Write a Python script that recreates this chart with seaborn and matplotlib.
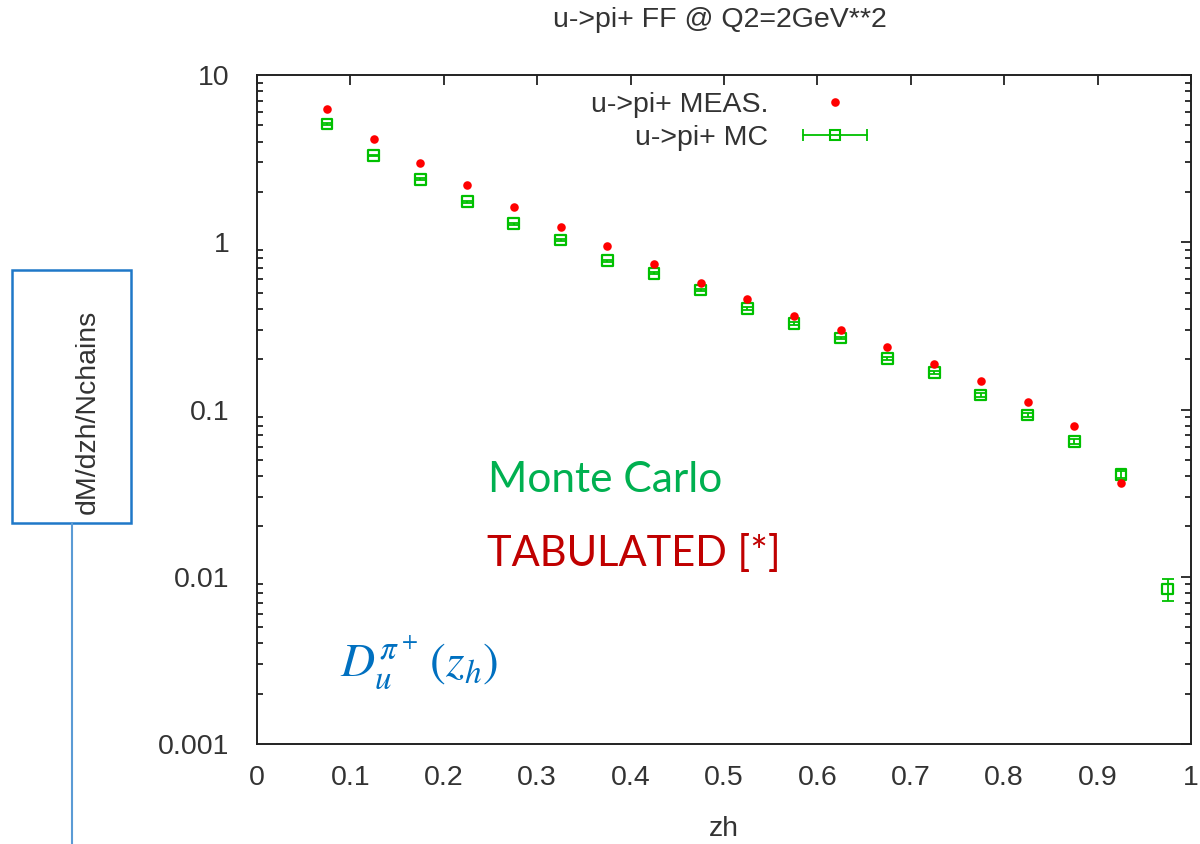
import numpy as np
import matplotlib
matplotlib.use("Agg")
import matplotlib.pyplot as plt
from matplotlib.lines import Line2D
from matplotlib.patches import Rectangle
from matplotlib.legend_handler import HandlerLine2D, HandlerTuple
from matplotlib.ticker import FixedLocator, LogLocator, NullFormatter
import seaborn as sns
import pandas as pd

# ---- data ----
zh_meas = [0.075, 0.125, 0.175, 0.225, 0.275, 0.325, 0.375, 0.425, 0.475,
           0.525, 0.575, 0.625, 0.675, 0.725, 0.775, 0.825, 0.875, 0.925]
ff_meas = [6.26, 4.16, 2.99, 2.20, 1.62, 1.23, 0.954, 0.738, 0.573,
           0.456, 0.364, 0.299, 0.236, 0.188, 0.149, 0.111, 0.0797, 0.0362]

zh_mc = [0.075, 0.125, 0.175, 0.225, 0.275, 0.325, 0.375, 0.425, 0.475,
         0.525, 0.575, 0.625, 0.675, 0.725, 0.775, 0.825, 0.875, 0.925, 0.975]
ff_mc = [5.09, 3.31, 2.38, 1.75, 1.29, 1.03, 0.776, 0.652, 0.518,
         0.403, 0.327, 0.268, 0.202, 0.166, 0.122, 0.0927, 0.0642, 0.0410, 0.00845]
err_mc = [0.05, 0.035, 0.03, 0.022, 0.017, 0.014, 0.011, 0.01, 0.008,
          0.007, 0.006, 0.005, 0.004, 0.0035, 0.003, 0.0025, 0.002, 0.0018, 0.0013]

x_ticks = [0, 0.1, 0.2, 0.3, 0.4, 0.5, 0.6, 0.7, 0.8, 0.9, 1]
y_ticks = [0.001, 0.01, 0.1, 1, 10]
y_tick_labels = ["0.001", "0.01", "0.1", "1", "10"]

title = "u->pi+ FF @ Q2=2GeV**2"
label_meas = "u->pi+ MEAS."
label_mc = "u->pi+ MC"

RED = "#ff0000"
GREEN = "#00c000"

sns.set_theme(style="white")
plt.rcParams["font.family"] = ["Liberation Sans", "DejaVu Sans"]
plt.rcParams["mathtext.fontset"] = "stix"

W, H = 1200, 844
fig = plt.figure(figsize=(12, 8.44), dpi=100)
ax = fig.add_axes([257 / W, 1 - 744 / H, (1191 - 257) / W, (744 - 75) / H])

df_meas = pd.DataFrame({"zh": zh_meas, "ff": ff_meas})
df_mc = pd.DataFrame({"zh": zh_mc, "ff": ff_mc, "err": err_mc})

ax.errorbar(df_mc["zh"], df_mc["ff"], yerr=df_mc["err"], fmt="none",
            ecolor=GREEN, elinewidth=1.3, capsize=4, capthick=1.3, zorder=2)
sns.scatterplot(data=df_mc, x="zh", y="ff", ax=ax, marker="s", s=60,
                facecolor="none", edgecolor=GREEN, linewidth=1.6, zorder=3,
                legend=False)
sns.scatterplot(data=df_meas, x="zh", y="ff", ax=ax, marker="o", s=38,
                color=RED, edgecolor=RED, linewidth=0, zorder=4, legend=False)

ax.set_yscale("log")
ax.set_xlim(0, 1)
ax.set_ylim(0.001, 10)
ax.xaxis.set_major_locator(FixedLocator(x_ticks))
ax.set_xticklabels(["%g" % v for v in x_ticks])
ax.yaxis.set_major_locator(FixedLocator(y_ticks))
ax.set_yticklabels(y_tick_labels)
ax.yaxis.set_minor_locator(LogLocator(base=10, subs=np.arange(2, 10)))
ax.yaxis.set_minor_formatter(NullFormatter())

ax.tick_params(axis="both", which="both", direction="in", top=True, right=True,
               colors="#222222", labelcolor="#333333", labelsize=20.5)
ax.tick_params(axis="both", which="major", length=7, width=1.3)
ax.tick_params(axis="y", which="minor", length=4.5, width=1.3, left=True, right=True)
ax.tick_params(axis="x", which="major", pad=15)
ax.tick_params(axis="y", which="major", pad=20)
for s in ax.spines.values():
    s.set_color("#222222")
    s.set_linewidth(1.4)
ax.set_xlabel("zh", fontsize=20.5, color="#333333", labelpad=18)
ax.set_ylabel("")

# legend (gnuplot style: text then sample)
h_meas = Line2D([], [], color=RED, marker="o", linestyle="none", markersize=6.2,
                markeredgewidth=0)
h_caps = Line2D([], [], color=GREEN, marker="|", linestyle="-", linewidth=1.3,
                markersize=9, markeredgewidth=1.3)
h_sq = Line2D([], [], color=GREEN, marker="s", linestyle="none", markersize=7,
              markerfacecolor="none", markeredgewidth=1.5)
leg = ax.legend([h_meas, (h_caps, h_sq)], [label_meas, label_mc],
                handler_map={h_caps: HandlerLine2D(numpoints=2),
                             h_sq: HandlerLine2D(numpoints=1),
                             tuple: HandlerTuple(ndivide=1)},
                markerfirst=False, frameon=False, fontsize=20.5,
                handlelength=2.85, handletextpad=0.9, labelspacing=0.25,
                loc="upper left", bbox_to_anchor=((574 - 257) / 934, 1.0),
                borderaxespad=0.2)
for t in leg.get_texts():
    t.set_color("#333333")
    t.set_ha("right")

fig.text(720 / W, 1 - 20 / H, title, ha="center", va="center", fontsize=20.5,
         color="#333333")

# annotations
fig.text(488 / W, 1 - 480 / H, "Monte Carlo", ha="left", va="center",
         fontsize=30.5, color="#00b050", family=["Lato", "DejaVu Sans"])
fig.text(487 / W, 1 - 553 / H, "TABULATED [*]", ha="left", va="center",
         fontsize=30, color="#c00000", family=["Lato", "DejaVu Sans"])
fig.text(340 / W, 1 - 662 / H, r"$D_u^{\pi^+}\,(z_h)$", ha="left", va="center",
         fontsize=34, color="#0070c0")

# y-axis label box with connector
fig.patches.append(Rectangle((12 / W, 1 - 523 / H), 119 / W, 253 / H,
                             transform=fig.transFigure, fill=False,
                             edgecolor="#1f78c8", linewidth=1.8))
fig.lines.append(Line2D([72 / W, 72 / W], [1 - 523 / H, 0], transform=fig.transFigure,
                        color="#5b9bd5", linewidth=1.5))
fig.text(88 / W, 1 - 412 / H, "dM/dzh/Nchains", rotation=90, ha="center",
         va="center", fontsize=20.5, color="#333333")

fig.savefig("out.png", dpi=100)
